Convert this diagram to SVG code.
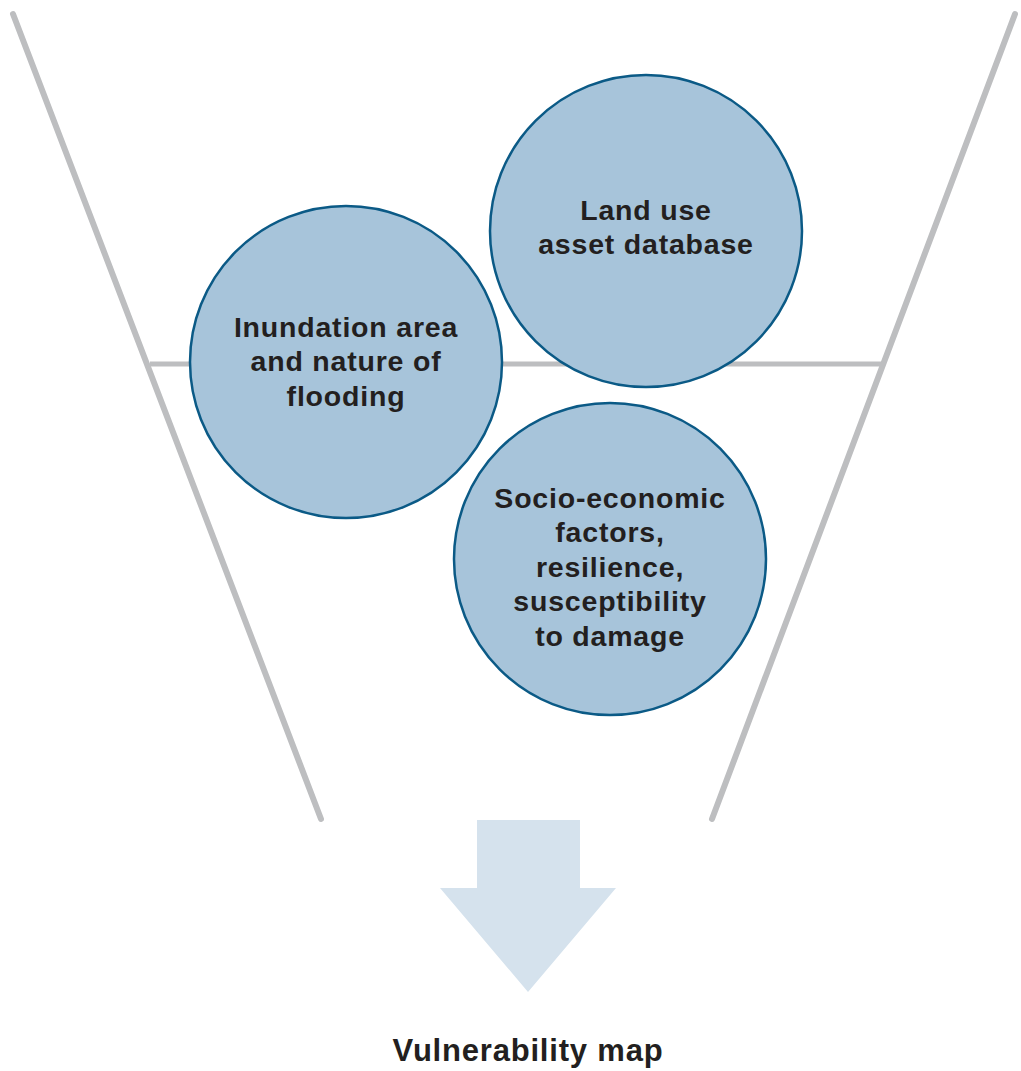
<svg xmlns="http://www.w3.org/2000/svg" width="1021" height="1071" viewBox="0 0 1021 1071">
<style>
.funnel{stroke:#bdbec0;stroke-width:6;stroke-linecap:round;fill:none}
.node circle{fill:#a7c4da;stroke:#0b5a86;stroke-width:2.5}
.lbl{font-family:"Liberation Sans",Arial,sans-serif;font-weight:bold;font-size:28.5px;letter-spacing:0.8px;fill:#231f20;text-anchor:middle}
</style>
<rect width="1021" height="1071" fill="#ffffff"/>
<g id="funnel">
<line class="funnel" x1="13" y1="14" x2="321" y2="819"/>
<line class="funnel" x1="1015" y1="14" x2="712" y2="819"/>
<line x1="150" y1="364" x2="884" y2="364" stroke="#bdbec0" stroke-width="5"/>
</g>
<g id="node-inundation" class="node">
<circle cx="346" cy="362" r="156"/>
<text class="lbl" x="346" y="337">Inundation area</text>
<text class="lbl" x="346" y="371">and nature of</text>
<text class="lbl" x="346" y="406">flooding</text>
</g>
<g id="node-landuse" class="node">
<circle cx="646" cy="231" r="156"/>
<text class="lbl" x="646" y="220">Land use</text>
<text class="lbl" x="646" y="254">asset database</text>
</g>
<g id="node-socio" class="node">
<circle cx="610" cy="559" r="156"/>
<text class="lbl" x="610" y="508">Socio-economic</text>
<text class="lbl" x="610" y="542">factors,</text>
<text class="lbl" x="610" y="577">resilience,</text>
<text class="lbl" x="610" y="611">susceptibility</text>
<text class="lbl" x="610" y="646">to damage</text>
</g>
<g id="connectors">
<polygon points="477,820 580,820 580,888 616,888 528,992 440,888 477,888" fill="#d5e2ed"/>
</g>
<g id="node-output">
<text class="lbl" x="528" y="1061" style="font-size:31px;letter-spacing:0.8px">Vulnerability map</text>
</g>
</svg>
